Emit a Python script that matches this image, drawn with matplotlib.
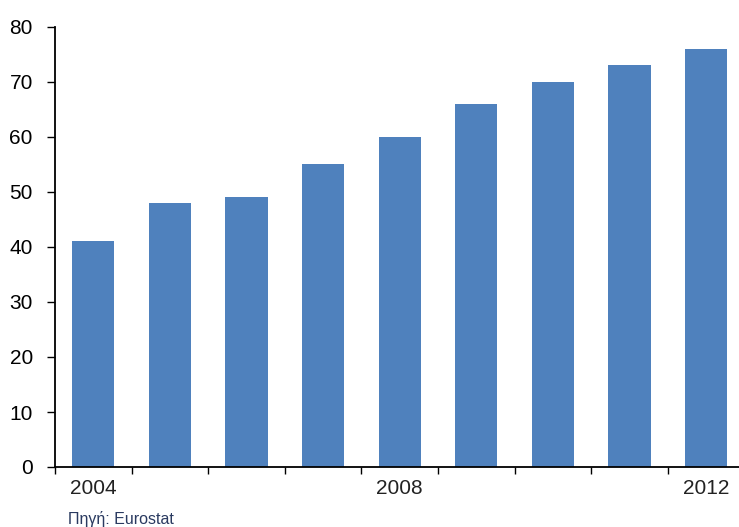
import matplotlib
matplotlib.use("Agg")
import matplotlib.pyplot as plt
import numpy as np

plt.rcParams['font.family'] = ['Liberation Sans', 'DejaVu Sans']

years = [2004, 2005, 2006, 2007, 2008, 2009, 2010, 2011, 2012]
values = [41, 48, 49, 55, 60, 66, 70, 73, 76]
shown_years = ["2004", "2008", "2012"]
yticks = [0, 10, 20, 30, 40, 50, 60, 70, 80]

fig = plt.figure(figsize=(7.39, 5.27), dpi=100)
W, H = 739, 527
ax = fig.add_axes([55 / W, 1 - 467 / H, 9 * 76.6 / W, 440 / H])

x = np.arange(len(years))
ax.bar(x, values, width=0.55, color="#4F81BD", zorder=2)

ax.set_xlim(-0.5, len(years) - 0.5)
ax.set_ylim(0, 80)
ax.set_yticks(yticks)
ax.tick_params(axis='y', labelsize=15, length=6, width=1, pad=10, colors='black')

# category boundaries carry tick marks, selected years carry labels
ax.set_xticks(np.arange(len(years) + 1) - 0.5)
ax.set_xticklabels([])
ax.tick_params(axis='x', length=5, width=1, direction='out')
for lbl in shown_years:
    i = years.index(int(lbl))
    ax.text(i, -2.2, lbl, ha='center', va='top', fontsize=15, color='#222222')

for s in ['top', 'right']:
    ax.spines[s].set_visible(False)
for s in ['left', 'bottom']:
    ax.spines[s].set_linewidth(1.3)
    ax.spines[s].set_color('black')

fig.text(68 / W, 1 - 519 / H, "Πηγή: Eurostat", fontsize=11.5, color='#2a3a60',
         ha='left', va='center')

fig.savefig("out.png", dpi=100)
